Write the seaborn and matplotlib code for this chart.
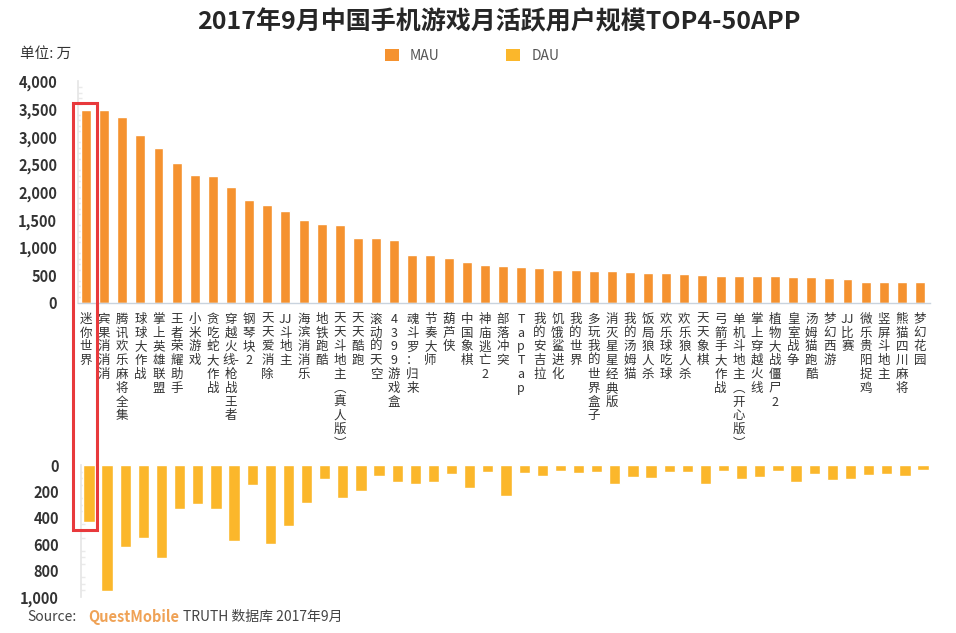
import matplotlib
matplotlib.use("Agg")
import matplotlib.pyplot as plt
import seaborn as sns
import pandas as pd
from matplotlib.patches import Rectangle, Patch
from matplotlib.ticker import FuncFormatter, MultipleLocator

# ---------------- data ----------------
categories = [
    "迷你世界", "宾果消消消", "腾讯欢乐麻将全集", "球球大作战", "掌上英雄联盟",
    "王者荣耀助手", "小米游戏", "贪吃蛇大作战", "穿越火线-枪战王者", "钢琴块2",
    "天天爱消除", "JJ斗地主", "海滨消消乐", "地铁跑酷", "天天斗地主（真人版）",
    "天天酷跑", "滚动的天空", "4399游戏盒", "魂斗罗：归来", "节奏大师",
    "葫芦侠", "中国象棋", "神庙逃亡2", "部落冲突", "TapTap",
    "我的安吉拉", "饥饿鲨进化", "我的世界", "多玩我的世界盒子", "消灭星星经典版",
    "我的汤姆猫", "饭局狼人杀", "欢乐球吃球", "欢乐狼人杀", "天天象棋",
    "弓箭手大作战", "单机斗地主（开心版）", "掌上穿越火线", "植物大战僵尸2", "皇室战争",
    "汤姆猫跑酷", "梦幻西游", "JJ比赛", "微乐贵阳捉鸡", "竖屏斗地主",
    "熊猫四川麻将", "梦幻花园",
]
mau = [
    3485, 3480, 3363, 3038, 2804, 2533, 2316, 2298, 2100, 1865,
    1775, 1667, 1504, 1432, 1414, 1179, 1179, 1143, 872, 872,
    818, 746, 692, 674, 656, 638, 602, 602, 584, 584,
    566, 548, 548, 530, 511, 493, 493, 493, 493, 475,
    475, 457, 439, 385, 385, 385, 385,
]
dau = [
    430, 954, 620, 552, 704, 332, 294, 332, 575, 149,
    597, 461, 286, 104, 248, 195, 81, 127, 142, 127,
    66, 172, 51, 233, 58, 81, 43, 58, 51, 142,
    89, 96, 51, 51, 142, 43, 104, 89, 43, 127,
    66, 111, 104, 73, 66, 81, 35,
]
mau_ticks = [0, 500, 1000, 1500, 2000, 2500, 3000, 3500, 4000]
dau_ticks = [0, 200, 400, 600, 800, 1000]
title = "2017年9月中国手机游戏月活跃用户规模TOP4-50APP"

MAU_COLOR = "#F5922F"
DAU_COLOR = "#FBB72B"

sns.set_theme(style="white")
plt.rcParams["font.family"] = ["Noto Sans CJK SC", "DejaVu Sans"]


def vertical(name):
    """Stack a label vertically: one CJK char per line, short latin runs kept together."""
    repl = {"（": "︵", "）": "︶"}
    out, run = [], ""
    for ch in name:
        if ch.isascii() and ch != "-":
            run += ch
            continue
        if run:
            out.extend([run] if len(run) <= 2 else list(run))
            run = ""
        if ch == "-":
            out[-1] = out[-1] + "-"
        else:
            out.append(repl.get(ch, ch))
    if run:
        out.extend([run] if len(run) <= 2 else list(run))
    return "\n".join(out)


labels = [vertical(c) for c in categories]
df = pd.DataFrame({"app": categories, "MAU": mau, "DAU": dau})

W, H = 956, 633
fig = plt.figure(figsize=(W / 100, H / 100), dpi=100)
fig.patch.set_facecolor("white")

n = len(categories)
xlim = (-0.44, n - 1 + 0.55)

# top panel (MAU)
ax = fig.add_axes([78 / W, 1 - 303 / H, (930 - 78) / W, (303 - 81.5) / H])
sns.barplot(data=df, x="app", y="MAU", color=MAU_COLOR, saturation=1,
            width=0.55, ax=ax, order=categories)
ax.set_xlim(*xlim)
ax.set_ylim(0, 4000)
ax.set_yticks(mau_ticks)
ax.yaxis.set_major_formatter(FuncFormatter(lambda v, p: f"{int(v):,}"))
ax.yaxis.set_minor_locator(MultipleLocator(100))
ax.set_xticks(range(n))
ax.set_xticklabels(labels, rotation=0, fontsize=9, color="#333333",
                   linespacing=1.08, va="top", ha="center")
ax.set_xlabel("")
ax.set_ylabel("")
for s in ["top", "right"]:
    ax.spines[s].set_visible(False)
ax.spines["left"].set_color("#E6E6E6")
ax.spines["bottom"].set_color("#C9D3DE")
ax.spines["bottom"].set_linewidth(1.0)
ax.tick_params(axis="x", length=0, pad=7)
ax.tick_params(axis="y", which="major", length=0, pad=15, labelsize=10.5,
               labelcolor="#333333")
ax.tick_params(axis="y", which="minor", length=3, direction="in", color="#EAEAEA",
               left=True)
for t in ax.get_yticklabels():
    t.set_fontweight("bold")

# bottom panel (DAU)
axb = fig.add_axes([81 / W, 1 - 597 / H, (930 - 78) / W, (597 - 465) / H])
sns.barplot(data=df, x="app", y="DAU", color=DAU_COLOR, saturation=1,
            width=0.62, ax=axb, order=categories)
axb.set_xlim(*xlim)
axb.set_ylim(1000, 0)
axb.set_yticks(dau_ticks)
axb.yaxis.set_major_formatter(FuncFormatter(lambda v, p: f"{int(v):,}"))
axb.yaxis.set_minor_locator(MultipleLocator(50))
axb.set_xticks([])
axb.set_xlabel("")
axb.set_ylabel("")
for s in ["top", "right", "bottom"]:
    axb.spines[s].set_visible(False)
axb.spines["left"].set_color("#E6E6E6")
axb.tick_params(axis="y", which="major", length=0, pad=16, labelsize=10.5,
                labelcolor="#333333")
axb.tick_params(axis="y", which="minor", length=3, direction="in", color="#EAEAEA",
                left=True)
for t in axb.get_yticklabels():
    t.set_fontweight("bold")

# title, unit, legend
fig.text(499 / W, 1 - 22 / H, title, ha="center", va="center", fontsize=18,
         fontweight="bold", color="#262626")
fig.text(20 / W, 1 - 54 / H, "单位: 万", ha="left", va="center", fontsize=10.5,
         color="#333333")
handles = [Patch(facecolor=MAU_COLOR, edgecolor="none"),
           Patch(facecolor=DAU_COLOR, edgecolor="none")]
fig.legend(handles, ["MAU", "DAU"], loc="center", bbox_to_anchor=(472 / W, 1 - 56 / H),
           ncol=2, frameon=False, handlelength=1.0, handleheight=1.0,
           handletextpad=0.8, columnspacing=4.8, fontsize=10,
           labelcolor="#555555")

# source line
y_src = 1 - 617 / H
fig.text(27 / W, y_src, "Source:", ha="left", va="center", fontsize=10, color="#444444")
fig.text(88 / W, y_src, "QuestMobile", ha="left", va="center", fontsize=10.5,
         fontweight="bold", color="#EFA256")
fig.text(183 / W, y_src, "TRUTH 数据库 2017年9月", ha="left", va="center",
         fontsize=10, color="#444444")

# red highlight box around the first app (both panels)
fig.canvas.draw()
inv = fig.transFigure.inverted()
x0, y0 = ax.transData.transform((-0.72, mau[0] + 130))
x1, y1 = axb.transData.transform((0.6 - 3 / 18.13, dau[0] + 63))
(fx0, fy0) = inv.transform((x0, y0))
(fx1, fy1) = inv.transform((x1, y1))
fig.patches.append(Rectangle((fx0, fy1), fx1 - fx0, fy0 - fy1, transform=fig.transFigure,
                             fill=False, edgecolor="#E8393C", linewidth=2.2,
                             figure=fig))

fig.savefig("out.png", dpi=100, facecolor="white")
